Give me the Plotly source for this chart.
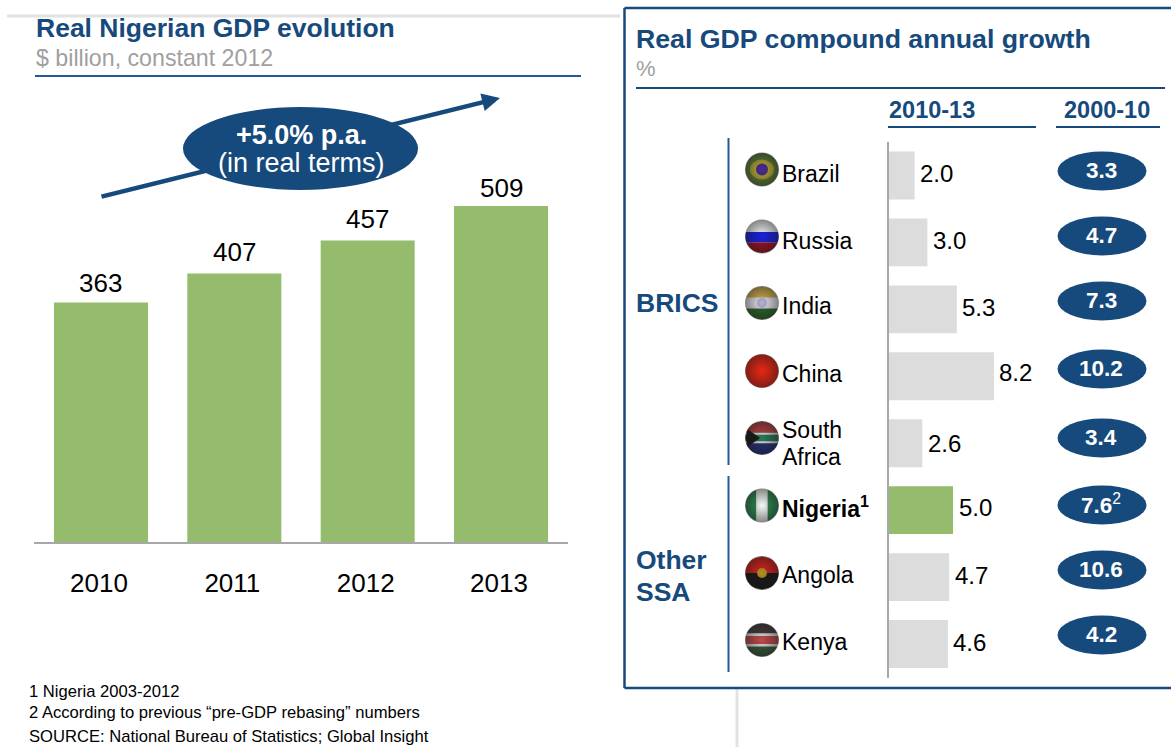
import math
import plotly.graph_objects as go

W, H = 1171, 747

# Nigerian GDP, $ billion (constant 2012)
years = ["2010", "2011", "2012", "2013"]
gdp = [363, 407, 457, 509]

# Compound annual growth, %
countries = ["Brazil", "Russia", "India", "China", "South Africa", "Nigeria", "Angola", "Kenya"]
country_labels = ["Brazil", "Russia", "India", "China", "South<br>Africa",
                  "<b>Nigeria<sup>1</sup></b>", "Angola", "Kenya"]
growth_2010_13 = [2.0, 3.0, 5.3, 8.2, 2.6, 5.0, 4.7, 4.6]
growth_2000_10 = [3.3, 4.7, 7.3, 10.2, 3.4, 7.6, 10.6, 4.2]
growth_2000_10_notes = ["", "", "", "", "", "2", "", ""]

NAVY = "#174a7c"
RULE = "#245a94"
GREEN = "#94bc6c"
BAR_GREY = "#dcdcdc"
AXIS_GREY = "#a8a8a8"
SUB_GREY = "#a0a0a0"
FONT = "Liberation Sans"

# Vertical pixel rows used by the decoration beside each country
flag_x = 762
flag_y = [169.5, 236.5, 303, 371, 438, 505.5, 573, 640]
label_y = [174, 241, 306, 374, 443.5, 507, 575, 642]
pill_y = [171, 236, 301, 369, 438, 505, 570, 635]

# Small per-label nudges, in pixels, for the value labels
column_label_lift = [2.5, 4.5, 4.5, 1.5]
bar_label_lift = [2, 2, 2, 4, 0, 3, 2, 2]

fig = go.Figure()

# Left panel: GDP columns
fig.add_bar(x=list(range(len(years))), y=gdp, width=0.705, marker_color=GREEN, marker_line_width=0,
            xaxis="x", yaxis="y", hoverinfo="skip")

# Right panel: growth bars, Nigeria highlighted
fig.add_bar(y=list(range(len(countries))), x=growth_2010_13, orientation="h", width=0.716,
            marker_color=[GREEN if c == "Nigeria" else BAR_GREY for c in countries],
            marker_line_width=0, xaxis="x2", yaxis="y2", hoverinfo="skip")

shapes, annotations = [], []


def text(x, y, s, size, color="black", bold=False, anchor="left", yanchor="middle"):
    annotations.append(dict(
        x=x, y=y, xref="x3", yref="y3", text=f"<b>{s}</b>" if bold else s, showarrow=False,
        xanchor=anchor, yanchor=yanchor, align=anchor,
        font=dict(family=FONT, size=size, color=color), borderpad=0, borderwidth=0,
    ))


def line(x0, y0, x1, y1, color, width):
    shapes.append(dict(type="line", x0=x0, y0=y0, x1=x1, y1=y1, xref="x3", yref="y3",
                       line=dict(color=color, width=width), layer="below"))


def ellipse(cx, cy, rx, ry, color):
    shapes.append(dict(type="circle", x0=cx - rx, x1=cx + rx, y0=cy - ry, y1=cy + ry,
                       xref="x3", yref="y3", fillcolor=color, line_width=0, layer="below"))


def polygon(points, color):
    path = "M" + "L".join(f"{x:.2f},{y:.2f}" for x, y in points) + "Z"
    shapes.append(dict(type="path", path=path, xref="x3", yref="y3", fillcolor=color,
                       line_width=0, layer="below"))


def hband(cx, cy, r, t0, t1, color):
    """Horizontal slice of a round flag between fractions t0 and t1 of its height."""
    ts = [(-1 + 2 * (t0 + (t1 - t0) * i / 12)) * r for i in range(13)]
    right = [(cx + math.sqrt(max(r * r - t * t, 0)), cy + t) for t in ts]
    left = [(cx - math.sqrt(max(r * r - t * t, 0)), cy + t) for t in reversed(ts)]
    polygon(right + left, color)


def vband(cx, cy, r, t0, t1, color):
    """Vertical slice of a round flag between fractions t0 and t1 of its width."""
    ts = [(-1 + 2 * (t0 + (t1 - t0) * i / 12)) * r for i in range(13)]
    bottom = [(cx + t, cy + math.sqrt(max(r * r - t * t, 0))) for t in ts]
    top = [(cx + t, cy - math.sqrt(max(r * r - t * t, 0))) for t in reversed(ts)]
    polygon(bottom + top, color)


# Panel furniture
line(7, 16, 620, 16, "#e2e2e2", 3)
line(737, 689, 737, 747, "#e2e2e2", 3)
line(35, 76, 581, 76, RULE, 2)
line(624.5, 8, 1175, 8, NAVY, 2.5)
line(624.5, 8, 624.5, 688, NAVY, 2.5)
line(624.5, 688, 1175, 688, NAVY, 2.5)
line(636, 88, 1165, 88, NAVY, 2)
line(888, 127, 1036, 127, NAVY, 2)
line(1056, 127, 1160, 127, NAVY, 2)
line(728.5, 138, 728.5, 465, RULE, 2)
line(728.5, 476, 728.5, 672, RULE, 2)

# Titles
text(36, 28, "Real Nigerian GDP evolution", 26.5, NAVY, bold=True)
text(36, 58, "$ billion, constant 2012", 23.2, SUB_GREY)
text(636, 39, "Real GDP compound annual growth", 26.7, NAVY, bold=True)
text(636, 68, "%", 22, SUB_GREY)
text(932, 110, "2010-13", 23.5, NAVY, bold=True, anchor="center")
text(1107, 110, "2000-10", 23.5, NAVY, bold=True, anchor="center")
text(636, 303, "BRICS", 26.5, NAVY, bold=True)
text(636, 560, "Other", 26.5, NAVY, bold=True)
text(636, 592, "SSA", 26.5, NAVY, bold=True)

# Growth callout
annotations.append(dict(x=500, y=98, ax=100, ay=197, xref="x3", yref="y3", axref="x3", ayref="y3",
                        text="", showarrow=True, arrowhead=2, arrowsize=0.8, arrowwidth=4.5,
                        arrowcolor=NAVY))
ellipse(300.5, 148.5, 117.5, 41.5, NAVY)
text(301, 135, "+5.0% p.a.", 27, "white", bold=True, anchor="center")
text(301, 163, "(in real terms)", 27, "white", anchor="center")

# Column values
for i, (value, lift) in enumerate(zip(gdp, column_label_lift)):
    annotations.append(dict(x=i, y=value, xref="x", yref="y", text=str(value), showarrow=False,
                            yanchor="bottom", yshift=lift, font=dict(family=FONT, size=26, color="black")))

# Growth values at the end of each bar
for i, (value, lift) in enumerate(zip(growth_2010_13, bar_label_lift)):
    annotations.append(dict(x=value, y=i, xref="x2", yref="y2", text=f"{value:.1f}", showarrow=False,
                            xanchor="left", xshift=3.5, yshift=lift,
                            font=dict(family=FONT, size=24, color="black")))

# 2000-10 growth pills
for y, value, note in zip(pill_y, growth_2000_10, growth_2000_10_notes):
    ellipse(1102, y, 44.5, 19.5, NAVY)
    label = f"<b>{value:.1f}</b>" + (f"<sup>{note}</sup>" if note else "")
    text(1101, y - 1, label, 22.5, "white", anchor="center")

# Country names; two-line names get their own tighter rows
for y, label in zip(label_y, country_labels):
    rows = label.split("<br>")
    for n, row in enumerate(rows):
        text(782, y + (n - (len(rows) - 1) / 2) * 27, row, 23)

# Round flags
R = 16.5
cx = flag_x
cy = flag_y[0]
ellipse(cx, cy, R, R, "#5d7f3a")
ellipse(cx, cy, 12, 10, "#b8ab35")
ellipse(cx, cy, 6, 6, "#4a2a90")

cy = flag_y[1]
hband(cx, cy, R, 0, 0.36, "#f4f4f4")
hband(cx, cy, R, 0.36, 0.68, "#1a22e0")
hband(cx, cy, R, 0.68, 1, "#a01226")

cy = flag_y[2]
hband(cx, cy, R, 0, 0.34, "#d4b050")
hband(cx, cy, R, 0.34, 0.67, "#ebe6f0")
hband(cx, cy, R, 0.67, 1, "#2c6a2c")
ellipse(cx, cy, 5, 5, "#b8b0dc")

cy = flag_y[3]
ellipse(cx, cy, R, R, "#e82814")

cy = flag_y[4]
hband(cx, cy, R, 0, 1, "#2a7a55")
hband(cx, cy, R, 0, 0.34, "#b84444")
hband(cx, cy, R, 0.66, 1, "#27307a")
hband(cx, cy, R, 0.34, 0.40, "#e0e0e0")
hband(cx, cy, R, 0.60, 0.66, "#e0e0e0")
polygon([(cx - 14, cy - 8.5), (cx - 2, cy), (cx - 14, cy + 8.5), (cx - 16.5, cy)], "#1a1a1a")

cy = flag_y[5]
vband(cx, cy, R, 0, 0.33, "#2e8a55")
vband(cx, cy, R, 0.33, 0.67, "#f4f8f4")
vband(cx, cy, R, 0.67, 1, "#2e8a55")

cy = flag_y[6]
hband(cx, cy, R, 0, 0.5, "#d42420")
hband(cx, cy, R, 0.5, 1, "#1a1a1a")
ellipse(cx, cy, 5, 5, "#b89020")

cy = flag_y[7]
hband(cx, cy, R, 0, 0.3, "#454040")
hband(cx, cy, R, 0.3, 0.38, "#e0e0e0")
hband(cx, cy, R, 0.38, 0.62, "#c04a4a")
hband(cx, cy, R, 0.62, 0.7, "#e0e0e0")
hband(cx, cy, R, 0.7, 1, "#3c5a3c")

# Spherical shading laid over the flat flags: clear in the middle, dark at the rim
fig.add_scatter(x=[flag_x] * len(flag_y), y=flag_y, mode="markers", xaxis="x3", yaxis="y3",
                hoverinfo="skip",
                marker=dict(size=34, color="rgba(20,20,20,0.5)",
                            gradient=dict(type="radial", color="rgba(20,20,20,0)"),
                            line=dict(width=0)))

# Footnotes
text(29, 691, "1 Nigeria 2003-2012", 16.6)
text(29, 712, "2 According to previous “pre-GDP rebasing” numbers", 16.6)
text(29, 736.5, "SOURCE: National Bureau of Statistics; Global Insight", 16.6)

fig.update_layout(
    width=W, height=H, margin=dict(l=0, r=0, t=0, b=0), autosize=False,
    paper_bgcolor="white", plot_bgcolor="rgba(0,0,0,0)", showlegend=False,
    hovermode=False, shapes=shapes, annotations=annotations,
    font=dict(family=FONT),
    xaxis=dict(domain=[34.3 / W, 567.7 / W], anchor="y", range=[-0.5, 3.5],
               tickmode="array", tickvals=list(range(len(years))), ticktext=years,
               ticklabelshift=-2,
               showgrid=False, zeroline=False, showline=True, automargin=False,
               linecolor=AXIS_GREY, linewidth=2, ticks="outside", ticklen=17,
               tickcolor="rgba(0,0,0,0)", tickfont=dict(family=FONT, size=26, color="black")),
    yaxis=dict(domain=[1 - 542 / H, 1 - 146 / H], anchor="x", range=[0, 600], visible=False),
    xaxis2=dict(domain=[889 / W, 1035 / W], anchor="y2", range=[0, 146 / 12.8], visible=False),
    yaxis2=dict(domain=[1 - 677.5 / H, 1 - 142 / H], anchor="x2", range=[len(countries) - 0.5, -0.5],
                showgrid=False, zeroline=False, showline=True, linecolor=AXIS_GREY, linewidth=2,
                showticklabels=False, ticks="", automargin=False),
    xaxis3=dict(domain=[0, 1], anchor="y3", range=[0, W], visible=False),
    yaxis3=dict(domain=[0, 1], anchor="x3", range=[H, 0], visible=False),
)

fig.write_html("out.html", config=dict(displayModeBar=False))
